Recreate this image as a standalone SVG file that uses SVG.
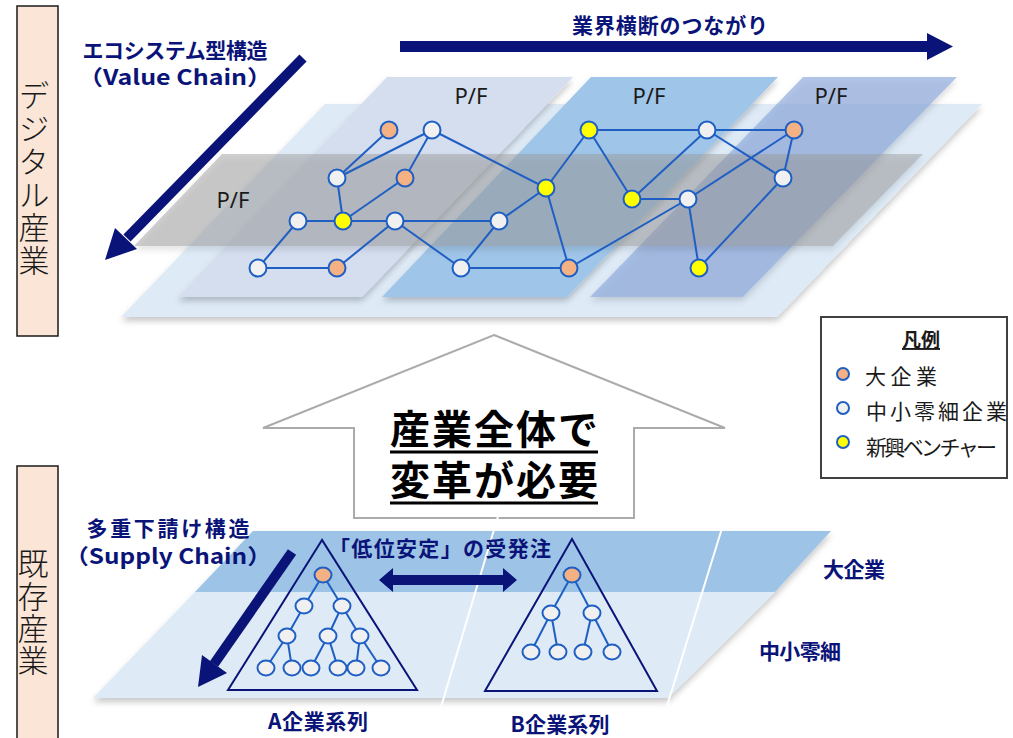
<svg xmlns="http://www.w3.org/2000/svg" width="1013" height="738" viewBox="0 0 1013 738">
<defs>
<filter id="sh" x="-10%" y="-10%" width="120%" height="130%"><feDropShadow dx="0" dy="4" stdDeviation="3" flood-color="#000" flood-opacity="0.22"/></filter>
<style>
.side{fill:#FBE5D6;stroke:#1a1a1a;stroke-width:1.5}
.vt{font-family:"Noto Sans CJK JP","Noto Sans",sans-serif;font-size:31px;font-weight:300;fill:#1a1a1a;writing-mode:vertical-rl}
.lbl{font-family:"Noto Sans CJK JP","Noto Sans",sans-serif;font-size:21px;font-weight:bold;fill:#0A1478;text-anchor:middle}
.pf{font-family:"Noto Sans","Open Sans",sans-serif;font-size:22px;fill:#1a1a1a;text-anchor:middle}
.lg{font-family:"Noto Sans CJK JP","Noto Sans",sans-serif;font-size:21px;fill:#1a1a1a}
.big{font-family:"Noto Sans CJK JP","Noto Sans",sans-serif;font-size:40px;font-weight:bold;fill:#000;text-anchor:middle}
.navy{fill:#0A1478}
.e{stroke:#1F5FC4;stroke-width:2;fill:none}
.w{fill:#F0F0F0;stroke:#1F5FC4;stroke-width:2}
.o{fill:#F4B183;stroke:#1F5FC4;stroke-width:2}
.y{fill:#FFFF00;stroke:#1F5FC4;stroke-width:2}
.tri{fill:none;stroke:#0A1478;stroke-width:2}
</style>
</defs>
<rect width="1013" height="738" fill="#fff"/>

<!-- side labels -->
<g id="side-digital">
<rect class="side" x="17" y="6" width="41" height="330"/>
<text class="vt" x="34" y="80" letter-spacing="2">デジタル産業</text>
</g>
<g id="side-existing">
<rect class="side" x="17" y="466" width="41" height="280"/>
<text class="vt" x="33" y="548" letter-spacing="1.3">既存産業</text>
</g>

<!-- digital planes -->
<g id="digital-planes">
<polygon filter="url(#sh)" points="325,104 982,104 777,317 121,317" fill="#DEEBF7"/>
<polygon id="pf1" filter="url(#sh)" points="387,77 573,77 362,297 178,297" fill="#D5DEEF"/>
<polygon id="pf2" filter="url(#sh)" points="591,77 778,77 567,297 382,297" fill="#9FC5E8"/>
<polygon id="pf3" filter="url(#sh)" points="803,77 957,77 743,297 590,297" fill="#8FAADC" fill-opacity="0.67"/>
<polygon id="pf-row" filter="url(#sh)" points="222,154 923,154 833,246 134,246" fill="#9A9A9A" fill-opacity="0.48"/>
<text class="pf" x="471" y="104">P/F</text>
<text class="pf" x="649" y="104">P/F</text>
<text class="pf" x="831" y="104">P/F</text>
<text class="pf" x="233" y="208">P/F</text>
</g>

<!-- arrows & labels top -->
<g id="value-chain">
<text class="lbl" x="175" y="58" textLength="185">エコシステム型構造</text>
<text class="lbl" x="175" y="85" textLength="194" lengthAdjust="spacingAndGlyphs">（Value Chain）</text>
<line x1="303" y1="58" x2="127" y2="238" stroke="#0A1478" stroke-width="10"/>
<polygon class="navy" points="105,260 115,228 137,249"/>
</g>
<g id="cross-industry">
<text class="lbl" x="670" y="33" textLength="196">業界横断のつながり</text>
<polygon class="navy" points="400,41 927,41 927,33 953,46.5 927,60 927,52 400,52"/>
</g>

<!-- connectors -->
<g id="connectors">
<g class="e">
<line x1="389" y1="130" x2="337" y2="178"/>
<line x1="432" y1="130" x2="337" y2="178"/>
<line x1="432" y1="130" x2="405" y2="178"/>
<line x1="432" y1="130" x2="546" y2="188"/>
<line x1="337" y1="178" x2="343" y2="221"/>
<line x1="405" y1="178" x2="343" y2="221"/>
<line x1="298" y1="221" x2="343" y2="221"/>
<line x1="343" y1="221" x2="395" y2="221"/>
<line x1="395" y1="221" x2="499" y2="221"/>
<line x1="395" y1="221" x2="337" y2="268"/>
<line x1="395" y1="221" x2="461" y2="268"/>
<line x1="298" y1="221" x2="258" y2="268"/>
<line x1="258" y1="268" x2="337" y2="268"/>
<line x1="461" y1="268" x2="499" y2="221"/>
<line x1="499" y1="221" x2="546" y2="188"/>
<line x1="461" y1="268" x2="569" y2="268"/>
<line x1="546" y1="188" x2="589" y2="130"/>
<line x1="546" y1="188" x2="569" y2="268"/>
<line x1="589" y1="130" x2="707" y2="130"/>
<line x1="589" y1="130" x2="632" y2="199"/>
<line x1="632" y1="199" x2="707" y2="130"/>
<line x1="632" y1="199" x2="688" y2="199"/>
<line x1="569" y1="268" x2="688" y2="199"/>
<line x1="707" y1="130" x2="794" y2="130"/>
<line x1="707" y1="130" x2="783" y2="178"/>
<line x1="794" y1="130" x2="688" y2="199"/>
<line x1="794" y1="130" x2="783" y2="178"/>
<line x1="783" y1="178" x2="699" y2="268"/>
<line x1="688" y1="199" x2="699" y2="268"/>
</g>
</g>

<!-- network nodes -->
<g id="n1"><circle class="o" cx="389" cy="130" r="8.5"/></g>
<g id="n2"><circle class="w" cx="432" cy="130" r="8.5"/></g>
<g id="n3"><circle class="w" cx="337" cy="178" r="8.5"/></g>
<g id="n4"><circle class="o" cx="405" cy="178" r="8.5"/></g>
<g id="n5"><circle class="w" cx="298" cy="221" r="8.5"/></g>
<g id="n6"><circle class="y" cx="343" cy="221" r="8.5"/></g>
<g id="n7"><circle class="w" cx="395" cy="221" r="8.5"/></g>
<g id="n8"><circle class="w" cx="258" cy="268" r="8.5"/></g>
<g id="n9"><circle class="o" cx="337" cy="268" r="8.5"/></g>
<g id="n10"><circle class="w" cx="499" cy="221" r="8.5"/></g>
<g id="n11"><circle class="w" cx="461" cy="268" r="8.5"/></g>
<g id="n12"><circle class="y" cx="546" cy="188" r="8.5"/></g>
<g id="n13"><circle class="o" cx="569" cy="268" r="8.5"/></g>
<g id="n14"><circle class="y" cx="589" cy="130" r="8.5"/></g>
<g id="n15"><circle class="y" cx="632" cy="199" r="8.5"/></g>
<g id="n16"><circle class="w" cx="707" cy="130" r="8.5"/></g>
<g id="n17"><circle class="o" cx="794" cy="130" r="8.5"/></g>
<g id="n18"><circle class="w" cx="783" cy="178" r="8.5"/></g>
<g id="n19"><circle class="w" cx="688" cy="199" r="8.5"/></g>
<g id="n20"><circle class="y" cx="699" cy="268" r="8.5"/></g>

<!-- legend -->
<g id="legend">
<rect x="821" y="317" width="186" height="161" fill="#fff" stroke="#404040" stroke-width="2"/>
<text x="921" y="347" font-family="'Noto Sans CJK JP',sans-serif" font-size="19" font-weight="bold" fill="#1a1a1a" text-anchor="middle" text-decoration="underline">凡例</text>
<circle class="o" cx="843" cy="374" r="6"/>
<text class="lg" x="865" y="384" textLength="72">大企業</text>
<circle class="w" cx="843" cy="408" r="6"/>
<text class="lg" x="866" y="419" textLength="141">中小零細企業</text>
<circle class="y" cx="843" cy="442" r="6"/>
<text class="lg" x="866" y="455" textLength="131">新興ベンチャー</text>
</g>

<!-- big arrow -->
<g id="transform-arrow">
<polygon points="494,335 725,428 634,428 634,518 354,518 354,428 263,428" fill="#fff" stroke="#ABABAB" stroke-width="2"/>
<text class="big" x="494" y="444" textLength="208">産業全体で</text>
<text class="big" x="494" y="495" textLength="208">変革が必要</text>
<line x1="390" y1="452" x2="598" y2="452" stroke="#000" stroke-width="3"/>
<line x1="390" y1="503" x2="598" y2="503" stroke="#000" stroke-width="3"/>
</g>

<!-- existing industry plane -->
<g id="existing-plane" filter="url(#sh)">
<polygon points="253,531 831,531 775,592 195,592" fill="#9DC3E6"/>
<polygon points="195,592 775,592 668,698 93,698" fill="#DEEBF7"/>
</g>
<line x1="499" y1="513" x2="441" y2="707" stroke="#fff" stroke-width="2"/>
<line x1="723" y1="525" x2="667" y2="706" stroke="#fff" stroke-width="2"/>

<g id="supply-chain">
<text class="lbl" x="168" y="536" textLength="163">多重下請け構造</text>
<text class="lbl" x="168" y="564" textLength="207" lengthAdjust="spacingAndGlyphs">（Supply Chain）</text>
<line x1="292" y1="552" x2="214" y2="664" stroke="#0A1478" stroke-width="10"/>
<polygon class="navy" points="198,687 202,655 227,673"/>
</g>

<g id="order-arrow">
<text class="lbl" x="440" y="556" textLength="222">「低位安定」の受発注</text>
<polygon class="navy" points="379,580 393,568 393,575 503,575 503,568 517,580 503,592 503,585 393,585 393,592"/>
</g>

<g id="tree-edges">
<g class="e">
<line x1="323" y1="575" x2="304" y2="606"/>
<line x1="323" y1="575" x2="342" y2="606"/>
<line x1="304" y1="606" x2="287" y2="636"/>
<line x1="342" y1="606" x2="328" y2="636"/>
<line x1="342" y1="606" x2="360" y2="636"/>
<line x1="287" y1="636" x2="266" y2="668"/>
<line x1="287" y1="636" x2="292" y2="668"/>
<line x1="328" y1="636" x2="311" y2="668"/>
<line x1="328" y1="636" x2="338" y2="668"/>
<line x1="360" y1="636" x2="356" y2="668"/>
<line x1="360" y1="636" x2="381" y2="668"/>
<line x1="572" y1="575" x2="551" y2="613"/>
<line x1="572" y1="575" x2="592" y2="613"/>
<line x1="551" y1="613" x2="531" y2="652"/>
<line x1="551" y1="613" x2="558" y2="652"/>
<line x1="592" y1="613" x2="583" y2="652"/>
<line x1="592" y1="613" x2="612" y2="652"/>
</g>
</g>

<g id="group-A">
<polygon class="tri" points="322,540 228,690 417,690"/>
<ellipse class="o" cx="323" cy="575" rx="8.5" ry="7.5"/>
<ellipse class="w" cx="304" cy="606" rx="8.5" ry="7.5"/>
<ellipse class="w" cx="342" cy="606" rx="8.5" ry="7.5"/>
<ellipse class="w" cx="287" cy="636" rx="8.5" ry="7.5"/>
<ellipse class="w" cx="328" cy="636" rx="8.5" ry="7.5"/>
<ellipse class="w" cx="360" cy="636" rx="8.5" ry="7.5"/>
<ellipse class="w" cx="266" cy="668" rx="8.5" ry="7.5"/>
<ellipse class="w" cx="292" cy="668" rx="8.5" ry="7.5"/>
<ellipse class="w" cx="311" cy="668" rx="8.5" ry="7.5"/>
<ellipse class="w" cx="338" cy="668" rx="8.5" ry="7.5"/>
<ellipse class="w" cx="356" cy="668" rx="8.5" ry="7.5"/>
<ellipse class="w" cx="381" cy="668" rx="8.5" ry="7.5"/>
<text class="lbl" x="318" y="729" textLength="100">A企業系列</text>
</g>

<g id="group-B">
<polygon class="tri" points="572,539 485,691 657,691"/>
<ellipse class="o" cx="572" cy="575" rx="8.5" ry="7.5"/>
<ellipse class="w" cx="551" cy="613" rx="8.5" ry="7.5"/>
<ellipse class="w" cx="592" cy="613" rx="8.5" ry="7.5"/>
<ellipse class="w" cx="531" cy="652" rx="8.5" ry="7.5"/>
<ellipse class="w" cx="558" cy="652" rx="8.5" ry="7.5"/>
<ellipse class="w" cx="583" cy="652" rx="8.5" ry="7.5"/>
<ellipse class="w" cx="612" cy="652" rx="8.5" ry="7.5"/>
<text class="lbl" x="560" y="732" textLength="99">B企業系列</text>
</g>

<g id="tier-labels">
<text class="lbl" x="854" y="577" textLength="62">大企業</text>
<text class="lbl" x="800" y="659" textLength="82">中小零細</text>
</g>
</svg>
